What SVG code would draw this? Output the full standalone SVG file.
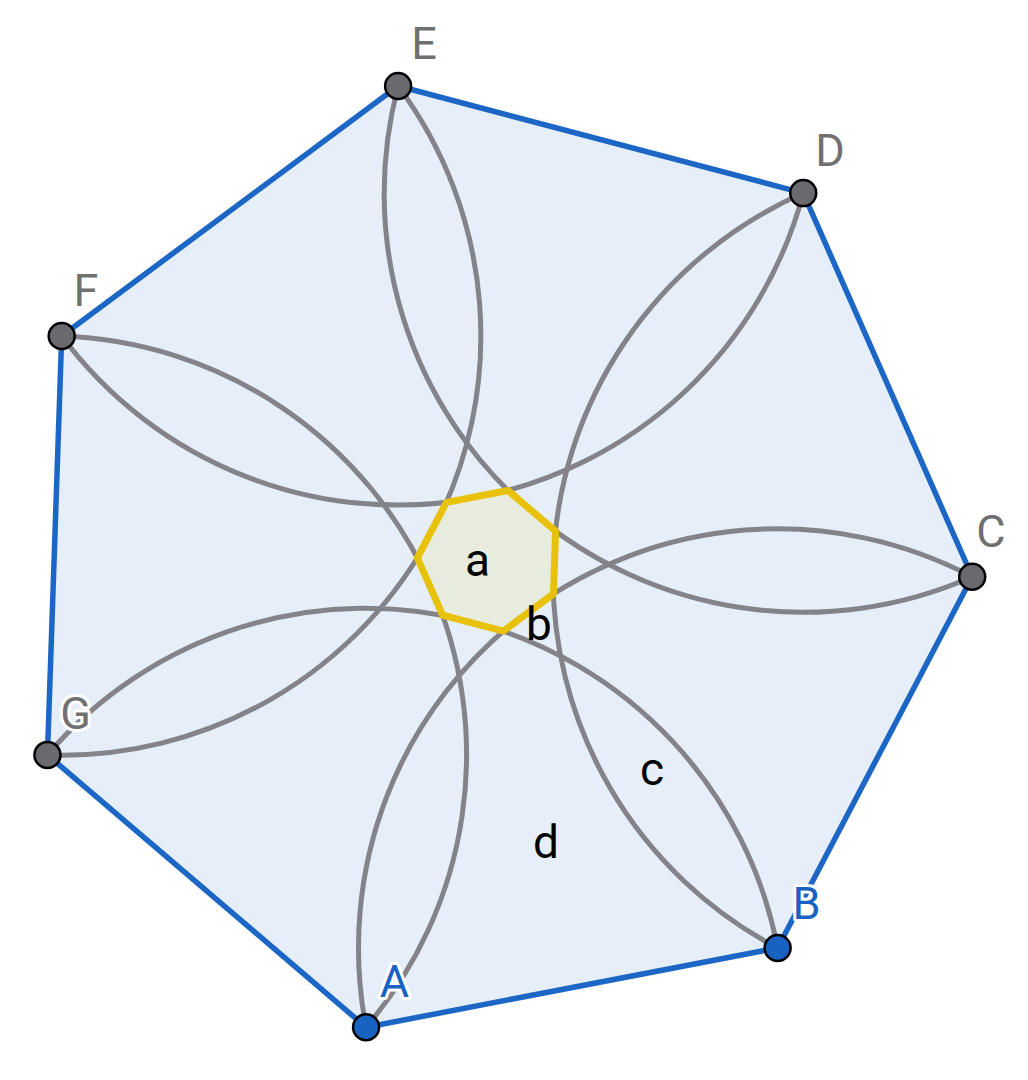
<svg xmlns="http://www.w3.org/2000/svg" width="1028" height="1080" viewBox="0 0 1028 1080">
<style>
.hept{fill:#e6eff9;stroke:#1c66c5;stroke-width:5.5;stroke-linejoin:round}
.arc{fill:none;stroke:#838389;stroke-width:5}
.inner{fill:#e8ecdf;stroke:#e8c20a;stroke-width:7;stroke-linejoin:round}
.pt{fill:#6a6a6e;stroke:#000;stroke-width:2.5}
.ptb{fill:#1862c2;stroke:#000;stroke-width:2.5}
.vl{font-family:Roboto,"Liberation Sans",sans-serif;font-size:45px;fill:#707070;text-anchor:middle;stroke:#fff;stroke-width:6;paint-order:stroke;stroke-linejoin:round}
.vlb{fill:#1862c2}
.rl{font-family:Roboto,"Liberation Sans",sans-serif;font-size:46px;fill:#000;text-anchor:middle}
</style>
<rect width="1028" height="1080" fill="#fff"/>
<g id="heptagon">
<polygon class="hept" points="972.22,576.74 777.62,947.96 366.06,1027.26 47.45,754.94 61.70,336.04 398.11,86.02 803.24,193.07"/>
</g>
<g id="connectors">
<path class="arc" d="M398.11 86.02 A419.13 419.13 0 0 0 972.22 576.74"/>
<path class="arc" d="M803.24 193.07 A419.13 419.13 0 0 0 777.62 947.96"/>
<path class="arc" d="M972.22 576.74 A419.13 419.13 0 0 0 366.06 1027.26"/>
<path class="arc" d="M777.62 947.96 A419.13 419.13 0 0 0 47.45 754.94"/>
<path class="arc" d="M366.06 1027.26 A419.13 419.13 0 0 0 61.70 336.04"/>
<path class="arc" d="M47.45 754.94 A419.13 419.13 0 0 0 398.11 86.02"/>
<path class="arc" d="M61.70 336.04 A419.13 419.13 0 0 0 803.24 193.07"/>
</g>
<g id="inner-heptagon">
<polygon class="inner" points="553.45,593.82 503.16,631.20 442.60,615.19 417.34,557.84 446.43,502.35 507.95,490.50 555.58,531.20"/>
</g>
<g id="region-labels">
<text class="rl" x="477.5" y="575.5">a</text>
<text class="rl" x="539" y="639.5">b</text>
<text class="rl" x="652" y="784.5">c</text>
<text class="rl" x="546" y="857.5">d</text>
</g>
<g id="node-A"><circle class="ptb" cx="366.06" cy="1027.26" r="13"/><text class="vl vlb" x="394.5" y="997">A</text></g>
<g id="node-B"><circle class="ptb" cx="777.62" cy="947.96" r="13"/><text class="vl vlb" x="806.5" y="919">B</text></g>
<g id="node-C"><circle class="pt" cx="972.22" cy="576.74" r="13"/><text class="vl" x="991" y="547">C</text></g>
<g id="node-D"><circle class="pt" cx="803.24" cy="193.07" r="13"/><text class="vl" x="830" y="165.5">D</text></g>
<g id="node-E"><circle class="pt" cx="398.11" cy="86.02" r="13"/><text class="vl" x="424" y="59">E</text></g>
<g id="node-F"><circle class="pt" cx="61.70" cy="336.04" r="13"/><text class="vl" x="86" y="306">F</text></g>
<g id="node-G"><circle class="pt" cx="47.45" cy="754.94" r="13"/><text class="vl" x="75.5" y="729">G</text></g>
</svg>
